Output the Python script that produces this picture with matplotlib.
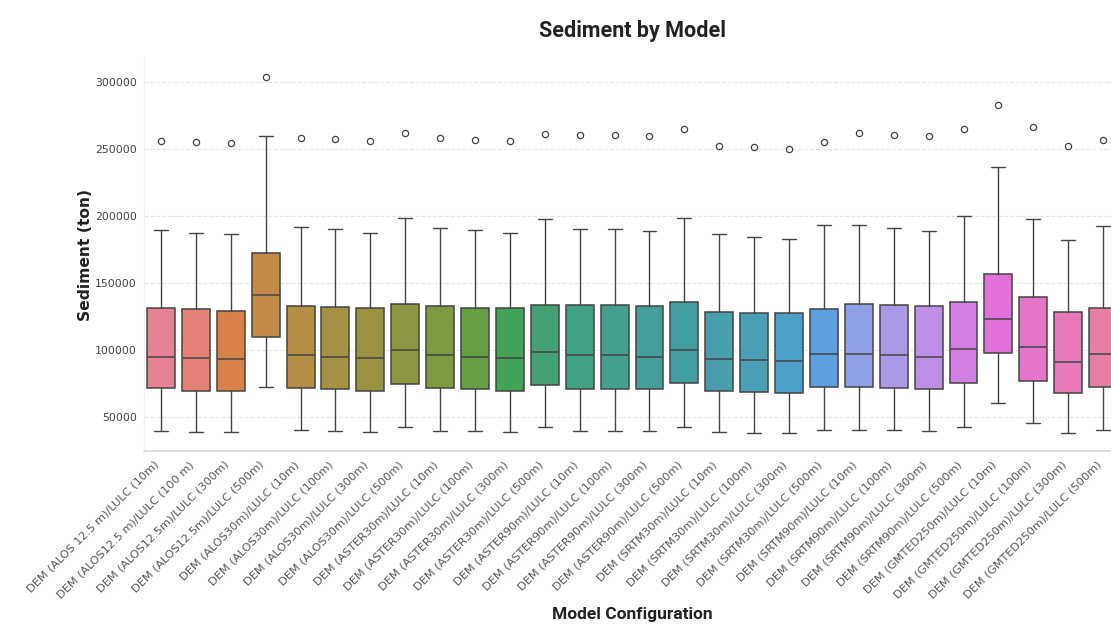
import matplotlib
matplotlib.use('Agg')
import matplotlib.pyplot as plt
import seaborn as sns

modelos = [
    'DEM (ALOS 12.5 m)/LULC (10m)', 'DEM (ALOS12.5 m)/LULC (100 m)',
    'DEM (ALOS12.5m)/LULC (300m)', 'DEM (ALOS12.5m)/LULC (500m)',
    'DEM (ALOS30m)/LULC (10m)', 'DEM (ALOS30m)/LULC (100m)',
    'DEM (ALOS30m)/LULC (300m)', 'DEM (ALOS30m)/LULC (500m)',
    'DEM (ASTER30m)/LULC (10m)', 'DEM (ASTER30m)/LULC (100m)',
    'DEM (ASTER30m)/LULC (300m)', 'DEM (ASTER30m)/LULC (500m)',
    'DEM (ASTER90m)/LULC (10m)', 'DEM (ASTER90m)/LULC (100m)',
    'DEM (ASTER90m)/LULC (300m)', 'DEM (ASTER90m)/LULC (500m)',
    'DEM (SRTM30m)/LULC (10m)', 'DEM (SRTM30m)/LULC (100m)',
    'DEM (SRTM30m)/LULC (300m)', 'DEM (SRTM30m)/LULC (500m)',
    'DEM (SRTM90m)/LULC (10m)', 'DEM (SRTM90m)/LULC (100m)',
    'DEM (SRTM90m)/LULC (300m)', 'DEM (SRTM90m)/LULC (500m)',
    'DEM (GMTED250m)/LULC (10m)', 'DEM (GMTED250m)/LULC (100m)',
    'DEM (GMTED250m)/LULC (300m)', 'DEM (GMTED250m)/LULC (500m)',
]

# resumen de cada caja (ton)
bigote_inf = [39800, 39300, 38800, 72600, 40300, 39800, 39300, 42800,
              39800, 39800, 39300, 42800, 39800, 39800, 39800, 42800,
              38800, 38600, 38100, 40800, 40800, 40300, 39800, 42800,
              60400, 45800, 38100, 40800]
q1 = [71600, 69800, 69800, 110000, 71800, 70900, 69800, 74600,
      71800, 70900, 69800, 74300, 71300, 71300, 70900, 75300,
      69800, 68900, 67900, 72600, 72600, 71600, 70900, 75300,
      97900, 77300, 67900, 72600]
mediana = [94900, 94000, 93200, 141100, 96200, 95200, 94200, 99900,
           96200, 95200, 94200, 98900, 96200, 96200, 95200, 99900,
           93200, 92600, 92000, 96900, 96900, 96200, 94900, 100600,
           123000, 102400, 91400, 96900]
q3 = [131400, 130400, 129400, 172400, 133100, 132400, 131200, 134200,
      132700, 131700, 131400, 133900, 133400, 133400, 132900, 135900,
      128400, 127600, 127500, 130400, 134200, 133400, 132700, 135900,
      156800, 139800, 128700, 131400]
bigote_sup = [189500, 187500, 186300, 259300, 192000, 190300, 187500, 198700,
              191000, 189500, 187500, 197700, 190300, 190300, 188800, 198700,
              186500, 184400, 183000, 193000, 193000, 191000, 188600, 199700,
              236200, 198000, 182300, 192300]
atipicos = [255600, 254900, 254100, 303500, 258300, 257500, 256000, 261600,
            257800, 256800, 256000, 260800, 260300, 260300, 259500, 264500,
            251900, 251200, 250100, 254900, 261600, 260500, 259500, 264500,
            282600, 266000, 252100, 256600]

sns.set_style('whitegrid')

stats_cajas = []
for i in range(len(modelos)):
    stats_cajas.append({'whislo': bigote_inf[i], 'q1': q1[i], 'med': mediana[i],
                        'q3': q3[i], 'whishi': bigote_sup[i],
                        'fliers': [atipicos[i]]})

colores = sns.color_palette('husl', len(modelos), desat=0.75)
gris = '#444444'

fig = plt.figure(figsize=(11.11, 6.24), dpi=100)
ax = fig.add_axes([0.1292, 0.2772, 0.8794, 0.6298])

cajas = ax.bxp(stats_cajas, positions=list(range(len(modelos))), widths=0.8,
               capwidths=0.4, patch_artist=True,
               boxprops=dict(edgecolor=gris, linewidth=1.1),
               whiskerprops=dict(color=gris, linewidth=1.0),
               capprops=dict(color=gris, linewidth=1.0),
               medianprops=dict(color=gris, linewidth=1.1),
               flierprops=dict(marker='o', markerfacecolor='none',
                               markeredgecolor=gris, markersize=4.5,
                               markeredgewidth=0.9))
for caja, c in zip(cajas['boxes'], colores):
    caja.set_facecolor(c)

ax.set_xlim(-0.5, len(modelos) - 0.5)
ax.set_ylim(24900, 317700)
ax.set_yticks([50000, 100000, 150000, 200000, 250000, 300000])
ax.set_yticklabels(['50000', '100000', '150000', '200000', '250000', '300000'])
ax.set_xticks(range(len(modelos)))
ax.set_xticklabels(modelos, rotation=45, ha='right', fontsize=8.2, color='#555555')
ax.tick_params(axis='y', labelsize=7.8, labelcolor='#444444', pad=5, length=0)
ax.tick_params(axis='x', pad=6, length=0)

ax.grid(False, axis='x')
ax.grid(True, axis='y', linestyle='--', color='#e6e6e6', linewidth=0.8)
ax.spines['top'].set_visible(False)
ax.spines['right'].set_visible(False)
ax.spines['left'].set_color('#f0f0f0')
ax.spines['bottom'].set_color('#d8d8d8')
ax.spines['bottom'].set_linewidth(1.2)

ax.set_title('Sediment by Model', fontsize=15.5, fontweight='bold',
             family=['Roboto', 'DejaVu Sans'], color='#222222', pad=15)
ax.set_ylabel('Sediment (ton)', fontsize=11.2, fontweight='bold', color='#222222')
ax.yaxis.set_label_coords(-0.052, 0.5)
ax.set_xlabel('Model Configuration', fontsize=12.5, fontweight='bold',
              family=['Roboto', 'DejaVu Sans'], color='#222222')
ax.xaxis.set_label_coords(0.5, -0.397)

fig.savefig('out.png', dpi=100)
